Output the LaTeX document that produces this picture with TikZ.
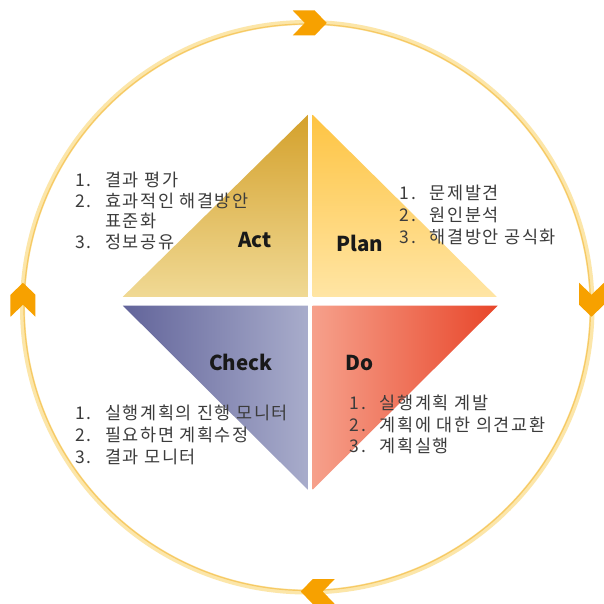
\documentclass[tikz,border=0pt]{standalone}
\usepackage{fontspec}
\setmainfont{Noto Sans CJK KR}
\definecolor{ringlight}{HTML}{FCE6A9}
\definecolor{ringdark}{HTML}{F6C964}
\definecolor{chevorange}{HTML}{F7A100}
\definecolor{actdark}{HTML}{D4A12C}
\definecolor{actlight}{HTML}{F0D994}
\definecolor{plandark}{HTML}{FEC443}
\definecolor{planlight}{HTML}{FFE5A4}
\definecolor{checkdark}{HTML}{62649A}
\definecolor{checklight}{HTML}{A8ACCB}
\definecolor{dolight}{HTML}{F6A08B}
\definecolor{dodark}{HTML}{E8462A}
\definecolor{listgray}{HTML}{3C3C3C}
\newcommand{\listline}[2]{\makebox[30pt][l]{#1}#2}
\tikzset{
  phase/.style={font=\fontsize{20.5}{24}\selectfont\bfseries, text=black!90, inner sep=0pt},
  listitem/.style={anchor=west, font=\fontsize{17.5}{20}\selectfont\addfontfeature{LetterSpace=9}, text=listgray, inner sep=0pt},
  chevron/.pic={\fill[chevorange] (-17,-12.5) -- (5,-12.5) -- (17,0) -- (5,12.5) -- (-17,12.5) -- (-5,0) -- cycle;}
}

\begin{document}
\begin{tikzpicture}[x=1pt,y=-1pt]
  \fill[white] (0,0) rectangle (600,604);
  % ring with the four chevrons
  \coordinate (ctr) at (307.5,307.5);
  \draw[ringlight, line width=5pt] (ctr) circle (285);
  \draw[ringdark, line width=1.2pt] (ctr) circle (283.5);
  \pic at (310,23) {chevron};
  \pic[rotate=-90] at (592,300) {chevron};
  \pic[rotate=180] at (318,592) {chevron};
  \pic[rotate=90] at (23,300) {chevron};
  % the four triangles
  \shade[top color=actdark, bottom color=actlight] (123,297) -- (308,115) -- (308,297) -- cycle;
  \shade[top color=plandark, bottom color=planlight] (313,115) -- (313,297) -- (497,297) -- cycle;
  \shade[left color=checkdark, right color=checklight] (123,306) -- (308,306) -- (308,490) -- cycle;
  \shade[left color=dolight, right color=dodark] (313,306) -- (498,306) -- (313,490) -- cycle;
  \node[phase] (act) at (255,240) {Act};
  \node[phase] (plan) at (360,244) {Plan};
  \node[phase] (check) at (241,363) {Check};
  \node[phase] (do) at (360,363) {Do};
  % lists
  \node[listitem] (act1) at (75,180) {\listline{1.}{결과 평가}};
  \node[listitem] (act2) at (75,201) {\listline{2.}{효과적인 해결방안}};
  \node[listitem] (act2b) at (75,221) {\listline{}{표준화}};
  \node[listitem] (act3) at (75,242) {\listline{3.}{정보공유}};
  \node[listitem] (plan1) at (400,193) {\listline{1.}{문제발견}};
  \node[listitem] (plan2) at (400,215) {\listline{2.}{원인분석}};
  \node[listitem] (plan3) at (400,237) {\listline{3.}{해결방안 공식화}};
  \node[listitem] (check1) at (75,413) {\listline{1.}{실행계획의 진행 모니터}};
  \node[listitem] (check2) at (75,435) {\listline{2.}{필요하면 계획수정}};
  \node[listitem] (check3) at (75,457) {\listline{3.}{결과 모니터}};
  \node[listitem] (do1) at (350,403) {\listline{1.}{실행계획 계발}};
  \node[listitem] (do2) at (350,425) {\listline{2.}{계획에 대한 의견교환}};
  \node[listitem] (do3) at (350,446) {\listline{3.}{계획실행}};
\end{tikzpicture}
\end{document}
